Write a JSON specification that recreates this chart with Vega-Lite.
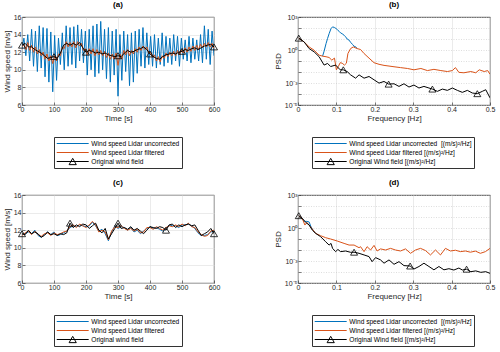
{
"$schema":"https://vega.github.io/schema/vega-lite/v6.json",
"padding":{"left":2,"top":0,"right":0,"bottom":0},
"bounds":"flush",
"columns":2,
"spacing":{"row":90,"column":84},
"config":{
 "font":"Liberation Sans",
 "view":{"stroke":"#262626","strokeWidth":0.8},
 "axis":{"labelFont":"Liberation Sans","labelFontSize":7,"labelColor":"#262626","labelOverlap":false,"labelFlush":false,"titleFont":"Liberation Sans","titleFontSize":8,"titleFontWeight":"normal","titleColor":"#262626","domain":false,"ticks":true,"tickSize":-3,"tickColor":"#262626","tickWidth":0.6,"grid":true,"gridColor":"#dedede","gridWidth":0.6,"titlePadding":3},
 "axisX":{"labelPadding":3,"titlePadding":2},
 "axisY":{"labelPadding":4,"titlePadding":2},
 "title":{"font":"Liberation Sans","fontSize":8,"fontWeight":"bold","offset":4,"color":"#000"},
 "legend":{"orient":"none","direction":"vertical","strokeColor":"#333","fillColor":"#fff","padding":2,"labelFont":"Liberation Sans","labelFontSize":6.6,"labelColor":"#000","symbolSize":81,"symbolOffset":11.7,"labelOffset":13.6,"clipHeight":9,"rowPadding":0}
},
"datasets":{
"a":[
{"s":"U","x":0,"y":12.4},{"s":"U","x":6,"y":13.6},{"s":"U","x":12,"y":11.6},{"s":"U","x":18,"y":14.0},{"s":"U","x":24,"y":11.0},{"s":"U","x":30,"y":14.6},{"s":"U","x":36,"y":10.4},{"s":"U","x":42,"y":14.4},{"s":"U","x":48,"y":9.8},{"s":"U","x":54,"y":15.0},{"s":"U","x":60,"y":10.2},{"s":"U","x":66,"y":14.8},{"s":"U","x":72,"y":9.2},{"s":"U","x":78,"y":14.7},{"s":"U","x":84,"y":8.6},{"s":"U","x":90,"y":14.3},{"s":"U","x":96,"y":7.5},{"s":"U","x":102,"y":13.9},{"s":"U","x":108,"y":8.8},{"s":"U","x":114,"y":13.6},{"s":"U","x":120,"y":10.6},{"s":"U","x":126,"y":14.2},{"s":"U","x":132,"y":10.0},{"s":"U","x":138,"y":15.0},{"s":"U","x":144,"y":10.4},{"s":"U","x":150,"y":14.8},{"s":"U","x":156,"y":10.6},{"s":"U","x":162,"y":14.9},{"s":"U","x":168,"y":10.2},{"s":"U","x":174,"y":15.1},{"s":"U","x":180,"y":11.0},{"s":"U","x":186,"y":14.6},{"s":"U","x":192,"y":10.8},{"s":"U","x":198,"y":14.4},{"s":"U","x":204,"y":9.4},{"s":"U","x":210,"y":14.6},{"s":"U","x":216,"y":10.0},{"s":"U","x":222,"y":15.0},{"s":"U","x":228,"y":9.2},{"s":"U","x":234,"y":15.2},{"s":"U","x":240,"y":9.6},{"s":"U","x":246,"y":15.5},{"s":"U","x":252,"y":10.0},{"s":"U","x":258,"y":14.6},{"s":"U","x":264,"y":9.0},{"s":"U","x":270,"y":14.8},{"s":"U","x":276,"y":8.6},{"s":"U","x":282,"y":14.4},{"s":"U","x":288,"y":9.4},{"s":"U","x":294,"y":14.6},{"s":"U","x":300,"y":7.0},{"s":"U","x":306,"y":14.0},{"s":"U","x":312,"y":8.8},{"s":"U","x":318,"y":14.4},{"s":"U","x":324,"y":9.8},{"s":"U","x":330,"y":14.0},{"s":"U","x":336,"y":8.2},{"s":"U","x":342,"y":14.2},{"s":"U","x":348,"y":8.6},{"s":"U","x":354,"y":14.4},{"s":"U","x":360,"y":9.6},{"s":"U","x":366,"y":14.6},{"s":"U","x":372,"y":10.4},{"s":"U","x":378,"y":14.8},{"s":"U","x":384,"y":10.2},{"s":"U","x":390,"y":14.2},{"s":"U","x":396,"y":10.6},{"s":"U","x":402,"y":13.8},{"s":"U","x":408,"y":10.4},{"s":"U","x":414,"y":14.0},{"s":"U","x":420,"y":10.2},{"s":"U","x":426,"y":13.6},{"s":"U","x":432,"y":10.6},{"s":"U","x":438,"y":14.2},{"s":"U","x":444,"y":10.4},{"s":"U","x":450,"y":13.8},{"s":"U","x":456,"y":10.8},{"s":"U","x":462,"y":13.6},{"s":"U","x":468,"y":10.6},{"s":"U","x":474,"y":14.0},{"s":"U","x":480,"y":11.0},{"s":"U","x":486,"y":13.8},{"s":"U","x":492,"y":10.4},{"s":"U","x":498,"y":13.6},{"s":"U","x":504,"y":11.2},{"s":"U","x":510,"y":13.4},{"s":"U","x":516,"y":11.0},{"s":"U","x":522,"y":13.8},{"s":"U","x":528,"y":10.8},{"s":"U","x":534,"y":13.6},{"s":"U","x":540,"y":11.2},{"s":"U","x":546,"y":13.4},{"s":"U","x":552,"y":11.0},{"s":"U","x":558,"y":14.0},{"s":"U","x":564,"y":10.8},{"s":"U","x":570,"y":15.0},{"s":"U","x":576,"y":11.2},{"s":"U","x":582,"y":14.6},{"s":"U","x":588,"y":10.6},{"s":"U","x":594,"y":14.4},{"s":"U","x":600,"y":11.6},
{"s":"F","x":0,"y":12.6},{"s":"F","x":6,"y":12.9},{"s":"F","x":12,"y":12.3},{"s":"F","x":18,"y":13.1},{"s":"F","x":24,"y":12.2},{"s":"F","x":30,"y":12.8},{"s":"F","x":36,"y":12.0},{"s":"F","x":42,"y":12.6},{"s":"F","x":48,"y":11.8},{"s":"F","x":54,"y":12.3},{"s":"F","x":60,"y":11.6},{"s":"F","x":66,"y":12.0},{"s":"F","x":72,"y":11.2},{"s":"F","x":78,"y":11.8},{"s":"F","x":84,"y":11.0},{"s":"F","x":90,"y":11.6},{"s":"F","x":96,"y":10.7},{"s":"F","x":102,"y":11.6},{"s":"F","x":108,"y":11.0},{"s":"F","x":114,"y":11.8},{"s":"F","x":120,"y":11.6},{"s":"F","x":126,"y":12.6},{"s":"F","x":132,"y":12.4},{"s":"F","x":138,"y":13.2},{"s":"F","x":144,"y":12.6},{"s":"F","x":150,"y":13.1},{"s":"F","x":156,"y":12.6},{"s":"F","x":162,"y":13.2},{"s":"F","x":168,"y":12.5},{"s":"F","x":174,"y":13.2},{"s":"F","x":180,"y":12.7},{"s":"F","x":186,"y":13.0},{"s":"F","x":192,"y":12.2},{"s":"F","x":198,"y":12.4},{"s":"F","x":204,"y":11.7},{"s":"F","x":210,"y":12.4},{"s":"F","x":216,"y":11.8},{"s":"F","x":222,"y":12.4},{"s":"F","x":228,"y":11.6},{"s":"F","x":234,"y":12.3},{"s":"F","x":240,"y":11.7},{"s":"F","x":246,"y":12.2},{"s":"F","x":252,"y":11.6},{"s":"F","x":258,"y":12.1},{"s":"F","x":264,"y":11.4},{"s":"F","x":270,"y":11.9},{"s":"F","x":276,"y":11.2},{"s":"F","x":282,"y":11.8},{"s":"F","x":288,"y":11.2},{"s":"F","x":294,"y":11.9},{"s":"F","x":300,"y":10.5},{"s":"F","x":306,"y":11.8},{"s":"F","x":312,"y":11.2},{"s":"F","x":318,"y":12.2},{"s":"F","x":324,"y":11.7},{"s":"F","x":330,"y":12.3},{"s":"F","x":336,"y":11.6},{"s":"F","x":342,"y":12.2},{"s":"F","x":348,"y":11.8},{"s":"F","x":354,"y":12.4},{"s":"F","x":360,"y":12.0},{"s":"F","x":366,"y":12.6},{"s":"F","x":372,"y":12.2},{"s":"F","x":378,"y":12.7},{"s":"F","x":384,"y":12.3},{"s":"F","x":390,"y":12.6},{"s":"F","x":396,"y":11.9},{"s":"F","x":402,"y":12.0},{"s":"F","x":408,"y":11.4},{"s":"F","x":414,"y":11.7},{"s":"F","x":420,"y":11.0},{"s":"F","x":426,"y":11.5},{"s":"F","x":432,"y":10.9},{"s":"F","x":438,"y":11.6},{"s":"F","x":444,"y":11.3},{"s":"F","x":450,"y":11.9},{"s":"F","x":456,"y":11.5},{"s":"F","x":462,"y":12.0},{"s":"F","x":468,"y":11.6},{"s":"F","x":474,"y":12.1},{"s":"F","x":480,"y":11.6},{"s":"F","x":486,"y":12.2},{"s":"F","x":492,"y":11.7},{"s":"F","x":498,"y":12.3},{"s":"F","x":504,"y":11.9},{"s":"F","x":510,"y":12.5},{"s":"F","x":516,"y":12.0},{"s":"F","x":522,"y":12.6},{"s":"F","x":528,"y":12.1},{"s":"F","x":534,"y":12.7},{"s":"F","x":540,"y":12.2},{"s":"F","x":546,"y":12.8},{"s":"F","x":552,"y":12.3},{"s":"F","x":558,"y":12.9},{"s":"F","x":564,"y":12.5},{"s":"F","x":570,"y":13.0},{"s":"F","x":576,"y":12.6},{"s":"F","x":582,"y":13.1},{"s":"F","x":588,"y":12.6},{"s":"F","x":594,"y":13.0},{"s":"F","x":600,"y":12.4},
{"s":"O","x":0,"y":12.8},{"s":"O","x":10,"y":13.0},{"s":"O","x":20,"y":12.6},{"s":"O","x":30,"y":12.6},{"s":"O","x":40,"y":12.3},{"s":"O","x":50,"y":12.1},{"s":"O","x":60,"y":11.9},{"s":"O","x":70,"y":11.6},{"s":"O","x":80,"y":11.3},{"s":"O","x":90,"y":11.4},{"s":"O","x":100,"y":11.5},{"s":"O","x":110,"y":11.3},{"s":"O","x":120,"y":11.9},{"s":"O","x":130,"y":12.8},{"s":"O","x":140,"y":13.0},{"s":"O","x":150,"y":12.8},{"s":"O","x":160,"y":13.0},{"s":"O","x":170,"y":12.8},{"s":"O","x":180,"y":13.1},{"s":"O","x":190,"y":12.5},{"s":"O","x":200,"y":12.0},{"s":"O","x":210,"y":12.2},{"s":"O","x":220,"y":12.1},{"s":"O","x":230,"y":11.9},{"s":"O","x":240,"y":12.0},{"s":"O","x":250,"y":11.8},{"s":"O","x":260,"y":11.9},{"s":"O","x":270,"y":11.7},{"s":"O","x":280,"y":11.6},{"s":"O","x":290,"y":11.5},{"s":"O","x":300,"y":11.6},{"s":"O","x":310,"y":11.5},{"s":"O","x":320,"y":11.9},{"s":"O","x":330,"y":12.2},{"s":"O","x":340,"y":12.0},{"s":"O","x":350,"y":12.1},{"s":"O","x":360,"y":12.3},{"s":"O","x":370,"y":12.4},{"s":"O","x":380,"y":12.6},{"s":"O","x":390,"y":12.3},{"s":"O","x":400,"y":11.8},{"s":"O","x":410,"y":11.5},{"s":"O","x":420,"y":11.3},{"s":"O","x":430,"y":11.2},{"s":"O","x":440,"y":11.5},{"s":"O","x":450,"y":11.7},{"s":"O","x":460,"y":11.8},{"s":"O","x":470,"y":11.9},{"s":"O","x":480,"y":11.8},{"s":"O","x":490,"y":12.0},{"s":"O","x":500,"y":12.1},{"s":"O","x":510,"y":12.3},{"s":"O","x":520,"y":12.2},{"s":"O","x":530,"y":12.4},{"s":"O","x":540,"y":12.5},{"s":"O","x":550,"y":12.3},{"s":"O","x":560,"y":12.5},{"s":"O","x":570,"y":12.7},{"s":"O","x":580,"y":12.8},{"s":"O","x":590,"y":12.9},{"s":"O","x":600,"y":12.6}
],
"aT":[{"x":0,"y":12.8},{"x":100,"y":11.5},{"x":200,"y":12.0},{"x":300,"y":11.6},{"x":400,"y":11.8},{"x":500,"y":12.1},{"x":600,"y":12.6}],
"b":[
{"s":"U","x":0.064,"y":0.275},{"s":"U","x":0.068,"y":0.79},{"s":"U","x":0.073,"y":3.8},{"s":"U","x":0.077,"y":11.2},{"s":"U","x":0.081,"y":30.2},{"s":"U","x":0.086,"y":89},{"s":"U","x":0.09,"y":126},{"s":"U","x":0.095,"y":112},{"s":"U","x":0.099,"y":89},{"s":"U","x":0.103,"y":67.6},{"s":"U","x":0.107,"y":50},{"s":"U","x":0.111,"y":35.5},{"s":"U","x":0.115,"y":30},{"s":"U","x":0.12,"y":22},{"s":"U","x":0.124,"y":15.8},{"s":"U","x":0.128,"y":10},{"s":"U","x":0.133,"y":7.9},{"s":"U","x":0.137,"y":5},{"s":"U","x":0.142,"y":3.2},{"s":"U","x":0.146,"y":2.19},{"s":"U","x":0.15,"y":2.0},{"s":"U","x":0.154,"y":1.35},
{"s":"F","x":0.002,"y":12},{"s":"F","x":0.016,"y":5.37},{"s":"F","x":0.029,"y":1.91},{"s":"F","x":0.042,"y":0.955},{"s":"F","x":0.055,"y":0.339},{"s":"F","x":0.064,"y":0.275},{"s":"F","x":0.073,"y":0.245},{"s":"F","x":0.081,"y":0.209},{"s":"F","x":0.088,"y":0.12},{"s":"F","x":0.095,"y":0.182},{"s":"F","x":0.1,"y":0.0158},{"s":"F","x":0.105,"y":0.0316},{"s":"F","x":0.11,"y":0.0708},{"s":"F","x":0.115,"y":0.063},{"s":"F","x":0.121,"y":0.0427},{"s":"F","x":0.126,"y":0.063},{"s":"F","x":0.13,"y":0.479},{"s":"F","x":0.137,"y":1.35},{"s":"F","x":0.144,"y":1.91},{"s":"F","x":0.154,"y":1.35},{"s":"F","x":0.163,"y":1.1},{"s":"F","x":0.172,"y":0.479},{"s":"F","x":0.185,"y":0.182},{"s":"F","x":0.198,"y":0.07},{"s":"F","x":0.211,"y":0.05},{"s":"F","x":0.224,"y":0.04},{"s":"F","x":0.237,"y":0.0347},{"s":"F","x":0.25,"y":0.03},{"s":"F","x":0.267,"y":0.0251},{"s":"F","x":0.285,"y":0.0209},{"s":"F","x":0.302,"y":0.0158},{"s":"F","x":0.32,"y":0.0209},{"s":"F","x":0.337,"y":0.0135},{"s":"F","x":0.354,"y":0.0174},{"s":"F","x":0.372,"y":0.0135},{"s":"F","x":0.389,"y":0.011},{"s":"F","x":0.402,"y":0.0135},{"s":"F","x":0.41,"y":0.0251},{"s":"F","x":0.419,"y":0.0093},{"s":"F","x":0.432,"y":0.0085},{"s":"F","x":0.45,"y":0.011},{"s":"F","x":0.463,"y":0.0085},{"s":"F","x":0.472,"y":0.0158},{"s":"F","x":0.485,"y":0.011},{"s":"F","x":0.494,"y":0.0135},{"s":"F","x":0.5,"y":0.0063},
{"s":"O","x":0.002,"y":12},{"s":"O","x":0.016,"y":5.37},{"s":"O","x":0.029,"y":1.35},{"s":"O","x":0.042,"y":0.676},{"s":"O","x":0.055,"y":0.245},{"s":"O","x":0.068,"y":0.0427},{"s":"O","x":0.077,"y":0.0603},{"s":"O","x":0.085,"y":0.0316},{"s":"O","x":0.098,"y":0.0427},{"s":"O","x":0.11,"y":0.0158},{"s":"O","x":0.118,"y":0.0158},{"s":"O","x":0.128,"y":0.011},{"s":"O","x":0.137,"y":0.0055},{"s":"O","x":0.15,"y":0.00275},{"s":"O","x":0.159,"y":0.0055},{"s":"O","x":0.172,"y":0.00275},{"s":"O","x":0.185,"y":0.00389},{"s":"O","x":0.198,"y":0.00195},{"s":"O","x":0.211,"y":0.00098},{"s":"O","x":0.224,"y":0.00138},{"s":"O","x":0.236,"y":0.00079},{"s":"O","x":0.25,"y":0.00085},{"s":"O","x":0.263,"y":0.00049},{"s":"O","x":0.276,"y":0.00085},{"s":"O","x":0.289,"y":0.00043},{"s":"O","x":0.302,"y":0.00065},{"s":"O","x":0.315,"y":0.00035},{"s":"O","x":0.328,"y":0.00049},{"s":"O","x":0.341,"y":0.00035},{"s":"O","x":0.35,"y":0.00028},{"s":"O","x":0.363,"y":0.000174},{"s":"O","x":0.376,"y":0.00028},{"s":"O","x":0.389,"y":0.000214},{"s":"O","x":0.402,"y":0.00035},{"s":"O","x":0.415,"y":0.000214},{"s":"O","x":0.428,"y":0.000141},{"s":"O","x":0.441,"y":0.000214},{"s":"O","x":0.454,"y":0.000123},{"s":"O","x":0.467,"y":0.000107},{"s":"O","x":0.48,"y":0.000174},{"s":"O","x":0.489,"y":0.000245},{"s":"O","x":0.5,"y":0.0000447}
],
"bT":[{"x":0.002,"y":12},{"x":0.118,"y":0.0158},{"x":0.236,"y":0.00079},{"x":0.35,"y":0.00028},{"x":0.467,"y":0.000107}],
"c":[
{"s":"U","x":0,"y":11.5},{"s":"U","x":10,"y":11.6},{"s":"U","x":20,"y":11.8},{"s":"U","x":30,"y":11.6},{"s":"U","x":40,"y":12.0},{"s":"U","x":50,"y":11.4},{"s":"U","x":60,"y":11.2},{"s":"U","x":70,"y":11.5},{"s":"U","x":80,"y":11.8},{"s":"U","x":90,"y":11.5},{"s":"U","x":100,"y":11.8},{"s":"U","x":110,"y":11.4},{"s":"U","x":120,"y":11.5},{"s":"U","x":130,"y":11.7},{"s":"U","x":140,"y":11.9},{"s":"U","x":150,"y":12.3},{"s":"U","x":160,"y":12.5},{"s":"U","x":170,"y":12.4},{"s":"U","x":180,"y":12.6},{"s":"U","x":190,"y":12.5},{"s":"U","x":200,"y":12.4},{"s":"U","x":210,"y":12.5},{"s":"U","x":220,"y":12.9},{"s":"U","x":230,"y":12.5},{"s":"U","x":240,"y":11.9},{"s":"U","x":250,"y":12.1},{"s":"U","x":260,"y":11.6},{"s":"U","x":270,"y":10.8},{"s":"U","x":280,"y":11.8},{"s":"U","x":290,"y":12.5},{"s":"U","x":300,"y":12.2},{"s":"U","x":310,"y":12.4},{"s":"U","x":320,"y":12.3},{"s":"U","x":330,"y":12.0},{"s":"U","x":340,"y":12.3},{"s":"U","x":350,"y":11.8},{"s":"U","x":360,"y":12.0},{"s":"U","x":370,"y":11.6},{"s":"U","x":380,"y":11.9},{"s":"U","x":390,"y":12.2},{"s":"U","x":400,"y":12.4},{"s":"U","x":410,"y":12.2},{"s":"U","x":420,"y":12.3},{"s":"U","x":430,"y":12.1},{"s":"U","x":440,"y":11.9},{"s":"U","x":450,"y":12.2},{"s":"U","x":460,"y":12.6},{"s":"U","x":470,"y":12.5},{"s":"U","x":480,"y":12.5},{"s":"U","x":490,"y":12.3},{"s":"U","x":500,"y":12.6},{"s":"U","x":510,"y":12.6},{"s":"U","x":520,"y":12.7},{"s":"U","x":530,"y":12.5},{"s":"U","x":540,"y":12.2},{"s":"U","x":550,"y":11.7},{"s":"U","x":560,"y":11.4},{"s":"U","x":570,"y":11.4},{"s":"U","x":580,"y":11.5},{"s":"U","x":590,"y":11.8},{"s":"U","x":600,"y":11.9},
{"s":"F","x":0,"y":11.4},{"s":"F","x":10,"y":11.7},{"s":"F","x":20,"y":11.9},{"s":"F","x":30,"y":11.5},{"s":"F","x":40,"y":11.9},{"s":"F","x":50,"y":11.5},{"s":"F","x":60,"y":11.3},{"s":"F","x":70,"y":11.6},{"s":"F","x":80,"y":11.7},{"s":"F","x":90,"y":11.4},{"s":"F","x":100,"y":11.7},{"s":"F","x":110,"y":11.5},{"s":"F","x":120,"y":11.6},{"s":"F","x":130,"y":11.8},{"s":"F","x":140,"y":11.9},{"s":"F","x":150,"y":12.4},{"s":"F","x":160,"y":12.6},{"s":"F","x":170,"y":12.3},{"s":"F","x":180,"y":12.7},{"s":"F","x":190,"y":12.5},{"s":"F","x":200,"y":12.3},{"s":"F","x":210,"y":12.6},{"s":"F","x":220,"y":13.0},{"s":"F","x":230,"y":12.6},{"s":"F","x":240,"y":11.8},{"s":"F","x":250,"y":12.0},{"s":"F","x":260,"y":11.8},{"s":"F","x":270,"y":10.9},{"s":"F","x":280,"y":11.9},{"s":"F","x":290,"y":12.4},{"s":"F","x":300,"y":12.3},{"s":"F","x":310,"y":12.5},{"s":"F","x":320,"y":12.2},{"s":"F","x":330,"y":12.0},{"s":"F","x":340,"y":12.2},{"s":"F","x":350,"y":11.9},{"s":"F","x":360,"y":12.1},{"s":"F","x":370,"y":11.7},{"s":"F","x":380,"y":11.8},{"s":"F","x":390,"y":12.3},{"s":"F","x":400,"y":12.3},{"s":"F","x":410,"y":12.1},{"s":"F","x":420,"y":12.4},{"s":"F","x":430,"y":12.2},{"s":"F","x":440,"y":12.0},{"s":"F","x":450,"y":12.3},{"s":"F","x":460,"y":12.5},{"s":"F","x":470,"y":12.4},{"s":"F","x":480,"y":12.6},{"s":"F","x":490,"y":12.4},{"s":"F","x":500,"y":12.7},{"s":"F","x":510,"y":12.5},{"s":"F","x":520,"y":12.8},{"s":"F","x":530,"y":12.4},{"s":"F","x":540,"y":12.3},{"s":"F","x":550,"y":11.8},{"s":"F","x":560,"y":11.5},{"s":"F","x":570,"y":11.3},{"s":"F","x":580,"y":11.4},{"s":"F","x":590,"y":11.9},{"s":"F","x":600,"y":12.0},
{"s":"O","x":0,"y":11.6},{"s":"O","x":10,"y":11.5},{"s":"O","x":20,"y":12.0},{"s":"O","x":30,"y":11.6},{"s":"O","x":40,"y":11.8},{"s":"O","x":50,"y":11.6},{"s":"O","x":60,"y":11.2},{"s":"O","x":70,"y":11.4},{"s":"O","x":80,"y":11.8},{"s":"O","x":90,"y":11.5},{"s":"O","x":100,"y":11.6},{"s":"O","x":110,"y":11.4},{"s":"O","x":120,"y":11.6},{"s":"O","x":130,"y":11.5},{"s":"O","x":140,"y":11.7},{"s":"O","x":150,"y":12.8},{"s":"O","x":160,"y":12.3},{"s":"O","x":170,"y":12.6},{"s":"O","x":180,"y":12.4},{"s":"O","x":190,"y":12.7},{"s":"O","x":200,"y":12.6},{"s":"O","x":210,"y":12.2},{"s":"O","x":220,"y":12.5},{"s":"O","x":230,"y":12.8},{"s":"O","x":240,"y":12.0},{"s":"O","x":250,"y":11.7},{"s":"O","x":260,"y":12.2},{"s":"O","x":270,"y":11.0},{"s":"O","x":280,"y":11.6},{"s":"O","x":290,"y":12.2},{"s":"O","x":300,"y":12.8},{"s":"O","x":310,"y":12.2},{"s":"O","x":320,"y":12.3},{"s":"O","x":330,"y":12.1},{"s":"O","x":340,"y":12.4},{"s":"O","x":350,"y":12.0},{"s":"O","x":360,"y":12.2},{"s":"O","x":370,"y":11.9},{"s":"O","x":380,"y":11.6},{"s":"O","x":390,"y":12.0},{"s":"O","x":400,"y":12.4},{"s":"O","x":410,"y":12.3},{"s":"O","x":420,"y":12.2},{"s":"O","x":430,"y":12.4},{"s":"O","x":440,"y":12.3},{"s":"O","x":450,"y":12.0},{"s":"O","x":460,"y":12.6},{"s":"O","x":470,"y":12.7},{"s":"O","x":480,"y":12.3},{"s":"O","x":490,"y":12.6},{"s":"O","x":500,"y":12.4},{"s":"O","x":510,"y":12.6},{"s":"O","x":520,"y":12.7},{"s":"O","x":530,"y":12.5},{"s":"O","x":540,"y":12.6},{"s":"O","x":550,"y":12.0},{"s":"O","x":560,"y":11.4},{"s":"O","x":570,"y":11.6},{"s":"O","x":580,"y":11.8},{"s":"O","x":590,"y":12.2},{"s":"O","x":600,"y":11.6}
],
"cT":[{"x":0,"y":11.6},{"x":150,"y":12.8},{"x":300,"y":12.8},{"x":450,"y":12.0},{"x":600,"y":11.6}],
"d":[
{"s":"U","x":0.002,"y":13.2},{"s":"U","x":0.011,"y":7.41},{"s":"U","x":0.018,"y":3.98},{"s":"U","x":0.023,"y":3.98},{"s":"U","x":0.029,"y":3.55},{"s":"U","x":0.033,"y":1.5},{"s":"U","x":0.037,"y":0.813},{"s":"U","x":0.046,"y":0.324},
{"s":"F","x":0.002,"y":13.2},{"s":"F","x":0.011,"y":7.41},{"s":"F","x":0.018,"y":1.86},{"s":"F","x":0.023,"y":3.24},{"s":"F","x":0.029,"y":1.86},{"s":"F","x":0.037,"y":0.813},{"s":"F","x":0.046,"y":0.324},{"s":"F","x":0.059,"y":0.2},{"s":"F","x":0.072,"y":0.132},{"s":"F","x":0.085,"y":0.1},{"s":"F","x":0.102,"y":0.066},{"s":"F","x":0.12,"y":0.0398},{"s":"F","x":0.133,"y":0.0282},{"s":"F","x":0.146,"y":0.0282},{"s":"F","x":0.159,"y":0.0162},{"s":"F","x":0.163,"y":0.02},{"s":"F","x":0.172,"y":0.00708},{"s":"F","x":0.18,"y":0.02},{"s":"F","x":0.189,"y":0.01},{"s":"F","x":0.198,"y":0.0263},{"s":"F","x":0.206,"y":0.00813},{"s":"F","x":0.215,"y":0.0126},{"s":"F","x":0.228,"y":0.01},{"s":"F","x":0.241,"y":0.0141},{"s":"F","x":0.254,"y":0.01},{"s":"F","x":0.267,"y":0.00813},{"s":"F","x":0.28,"y":0.0126},{"s":"F","x":0.293,"y":0.00501},{"s":"F","x":0.306,"y":0.01},{"s":"F","x":0.319,"y":0.0141},{"s":"F","x":0.332,"y":0.00891},{"s":"F","x":0.345,"y":0.00355},{"s":"F","x":0.358,"y":0.01},{"s":"F","x":0.371,"y":0.00355},{"s":"F","x":0.384,"y":0.0141},{"s":"F","x":0.397,"y":0.00813},{"s":"F","x":0.41,"y":0.00955},{"s":"F","x":0.423,"y":0.00708},{"s":"F","x":0.436,"y":0.00813},{"s":"F","x":0.449,"y":0.00631},{"s":"F","x":0.462,"y":0.00794},{"s":"F","x":0.475,"y":0.00501},{"s":"F","x":0.488,"y":0.00708},{"s":"F","x":0.5,"y":0.0141},
{"s":"O","x":0.002,"y":13.2},{"s":"O","x":0.011,"y":7.41},{"s":"O","x":0.02,"y":3.24},{"s":"O","x":0.029,"y":1.86},{"s":"O","x":0.037,"y":0.661},{"s":"O","x":0.046,"y":0.324},{"s":"O","x":0.059,"y":0.162},{"s":"O","x":0.072,"y":0.0562},{"s":"O","x":0.081,"y":0.0282},{"s":"O","x":0.086,"y":0.0398},{"s":"O","x":0.09,"y":0.0141},{"s":"O","x":0.098,"y":0.00708},{"s":"O","x":0.104,"y":0.0112},{"s":"O","x":0.111,"y":0.00708},{"s":"O","x":0.124,"y":0.00813},{"s":"O","x":0.137,"y":0.00617},{"s":"O","x":0.146,"y":0.0063},{"s":"O","x":0.159,"y":0.00501},{"s":"O","x":0.172,"y":0.00355},{"s":"O","x":0.185,"y":0.00251},{"s":"O","x":0.193,"y":0.00087},{"s":"O","x":0.202,"y":0.00204},{"s":"O","x":0.215,"y":0.00126},{"s":"O","x":0.224,"y":0.00063},{"s":"O","x":0.237,"y":0.00126},{"s":"O","x":0.25,"y":0.0005},{"s":"O","x":0.263,"y":0.00087},{"s":"O","x":0.276,"y":0.00038},{"s":"O","x":0.292,"y":0.00035},{"s":"O","x":0.302,"y":0.000186},{"s":"O","x":0.315,"y":0.000316},{"s":"O","x":0.328,"y":0.00063},{"s":"O","x":0.341,"y":0.000316},{"s":"O","x":0.354,"y":0.000158},{"s":"O","x":0.367,"y":0.000316},{"s":"O","x":0.38,"y":0.000158},{"s":"O","x":0.393,"y":0.0002},{"s":"O","x":0.406,"y":0.000151},{"s":"O","x":0.419,"y":0.000229},{"s":"O","x":0.428,"y":0.000151},{"s":"O","x":0.439,"y":0.00018},{"s":"O","x":0.45,"y":0.000107},{"s":"O","x":0.463,"y":0.000126},{"s":"O","x":0.476,"y":0.0000933},{"s":"O","x":0.489,"y":0.000107},{"s":"O","x":0.5,"y":0.0000759}
],
"dT":[{"x":0.002,"y":13.2},{"x":0.146,"y":0.0063},{"x":0.292,"y":0.00035},{"x":0.439,"y":0.00018}]
},
"resolve":{"scale":{"x":"independent","y":"independent","color":"independent"},"legend":{"color":"independent"}},
"concat":[
{"width":192,"height":88,"title":"(a)",
 "encoding":{
  "x":{"field":"x","type":"quantitative","scale":{"domain":[0,600]},"axis":{"title":"Time [s]","values":[0,100,200,300,400,500,600],"labelOverlap":false}},
  "y":{"field":"y","type":"quantitative","scale":{"domain":[6,16]},"axis":{"title":"Wind speed [m/s]","values":[6,8,10,12,14,16],"labelOverlap":false}}},
 "layer":[
  {"data":{"name":"a"},"mark":{"type":"line","strokeWidth":1,"clip":true},
   "encoding":{
    "color":{"field":"s","type":"nominal","scale":{"domain":["U","F","O"],"range":["#0072BD","#D95319","#000000"]},
     "legend":{"title":null,"legendX":32,"legendY":120,"labelLimit":95,"labelExpr":"datum.value==='U'?'Wind speed Lidar uncorrected':datum.value==='F'?'Wind speed Lidar filtered':'Original wind field'",
      "encode":{"symbols":{"update":{"shape":{"signal":"datum.value==='O'?'M-3.55,0L3.55,0M-0.8,0.7L0,-0.7L0.8,0.7Z':'M-3.55,0L3.55,0'"},"fill":{"value":"transparent"},"strokeWidth":{"value":1}}}}}}}},
  {"data":{"name":"aT"},"mark":{"type":"point","shape":"M-1,0.85L0,-0.85L1,0.85Z","size":49,"filled":false,"color":"#000","strokeWidth":0.8,"opacity":1},"encoding":{}}
 ]},
{"width":192,"height":88,"title":"(b)",
 "encoding":{
  "x":{"field":"x","type":"quantitative","scale":{"domain":[0,0.5]},"axis":{"title":"Frequency [Hz]","values":[0,0.1,0.2,0.3,0.4,0.5],"format":"~g","labelOverlap":false}},
  "y":{"field":"y","type":"quantitative","scale":{"type":"log","domain":[0.00001,1000]},"axis":{"title":"PSD","values":[0.00001,0.0001,0.001,0.01,0.1,1,10,100,1000],"labelOverlap":false,"gridDash":[1,1.5],"gridColor":"#c8c8c8","labelExpr":"abs(datum.value-1000)<1e-6?'10³':abs(datum.value-1)<1e-9?'10⁰':abs(datum.value-0.001)<1e-9?'10⁻³':abs(datum.value-0.00001)<1e-10?'10⁻⁵':''"}}},
 "layer":[
  {"data":{"name":"b"},"mark":{"type":"line","strokeWidth":1,"clip":true},
   "encoding":{
    "color":{"field":"s","type":"nominal","scale":{"domain":["U","F","O"],"range":["#0072BD","#D95319","#000000"]},
     "legend":{"title":null,"legendX":14,"legendY":120,"labelLimit":140,"labelExpr":"datum.value==='U'?'Wind speed Lidar uncorrected\u00a0 [(m/s)²/Hz]':datum.value==='F'?'Wind speed Lidar filtered [(m/s)²/Hz]':'Original Wind field [(m/s)²/Hz]'",
      "encode":{"symbols":{"update":{"shape":{"signal":"datum.value==='O'?'M-3.55,0L3.55,0M-0.8,0.7L0,-0.7L0.8,0.7Z':'M-3.55,0L3.55,0'"},"fill":{"value":"transparent"},"strokeWidth":{"value":1}}}}}}}},
  {"data":{"name":"bT"},"mark":{"type":"point","shape":"M-1,0.85L0,-0.85L1,0.85Z","size":49,"filled":false,"color":"#000","strokeWidth":0.8,"opacity":1},"encoding":{}}
 ]},
{"width":192,"height":88,"title":"(c)",
 "encoding":{
  "x":{"field":"x","type":"quantitative","scale":{"domain":[0,600]},"axis":{"title":"Time [s]","values":[0,100,200,300,400,500,600],"labelOverlap":false}},
  "y":{"field":"y","type":"quantitative","scale":{"domain":[6,16]},"axis":{"title":"Wind speed [m/s]","values":[6,8,10,12,14,16],"labelOverlap":false}}},
 "layer":[
  {"data":{"name":"c"},"mark":{"type":"line","strokeWidth":1,"clip":true},
   "encoding":{
    "color":{"field":"s","type":"nominal","scale":{"domain":["U","F","O"],"range":["#0072BD","#D95319","#000000"]},
     "legend":{"title":null,"legendX":32,"legendY":120,"labelLimit":95,"labelExpr":"datum.value==='U'?'Wind speed Lidar uncorrected':datum.value==='F'?'Wind speed Lidar filtered':'Original wind field'",
      "encode":{"symbols":{"update":{"shape":{"signal":"datum.value==='O'?'M-3.55,0L3.55,0M-0.8,0.7L0,-0.7L0.8,0.7Z':'M-3.55,0L3.55,0'"},"fill":{"value":"transparent"},"strokeWidth":{"value":1}}}}}}}},
  {"data":{"name":"cT"},"mark":{"type":"point","shape":"M-1,0.85L0,-0.85L1,0.85Z","size":49,"filled":false,"color":"#000","strokeWidth":0.8,"opacity":1},"encoding":{}}
 ]},
{"width":192,"height":88,"title":"(d)",
 "encoding":{
  "x":{"field":"x","type":"quantitative","scale":{"domain":[0,0.5]},"axis":{"title":"Frequency [Hz]","values":[0,0.1,0.2,0.3,0.4,0.5],"format":"~g","labelOverlap":false}},
  "y":{"field":"y","type":"quantitative","scale":{"type":"log","domain":[0.00001,1000]},"axis":{"title":"PSD","values":[0.00001,0.0001,0.001,0.01,0.1,1,10,100,1000],"labelOverlap":false,"gridDash":[1,1.5],"gridColor":"#c8c8c8","labelExpr":"abs(datum.value-1000)<1e-6?'10³':abs(datum.value-1)<1e-9?'10⁰':abs(datum.value-0.001)<1e-9?'10⁻³':abs(datum.value-0.00001)<1e-10?'10⁻⁵':''"}}},
 "layer":[
  {"data":{"name":"d"},"mark":{"type":"line","strokeWidth":1,"clip":true},
   "encoding":{
    "color":{"field":"s","type":"nominal","scale":{"domain":["U","F","O"],"range":["#0072BD","#D95319","#000000"]},
     "legend":{"title":null,"legendX":14,"legendY":120,"labelLimit":140,"labelExpr":"datum.value==='U'?'Wind speed Lidar uncorrected\u00a0 [(m/s)²/Hz]':datum.value==='F'?'Wind speed Lidar filtered [(m/s)²/Hz]':'Original Wind field [(m/s)²/Hz]'",
      "encode":{"symbols":{"update":{"shape":{"signal":"datum.value==='O'?'M-3.55,0L3.55,0M-0.8,0.7L0,-0.7L0.8,0.7Z':'M-3.55,0L3.55,0'"},"fill":{"value":"transparent"},"strokeWidth":{"value":1}}}}}}}},
  {"data":{"name":"dT"},"mark":{"type":"point","shape":"M-1,0.85L0,-0.85L1,0.85Z","size":49,"filled":false,"color":"#000","strokeWidth":0.8,"opacity":1},"encoding":{}}
 ]}
]
}
